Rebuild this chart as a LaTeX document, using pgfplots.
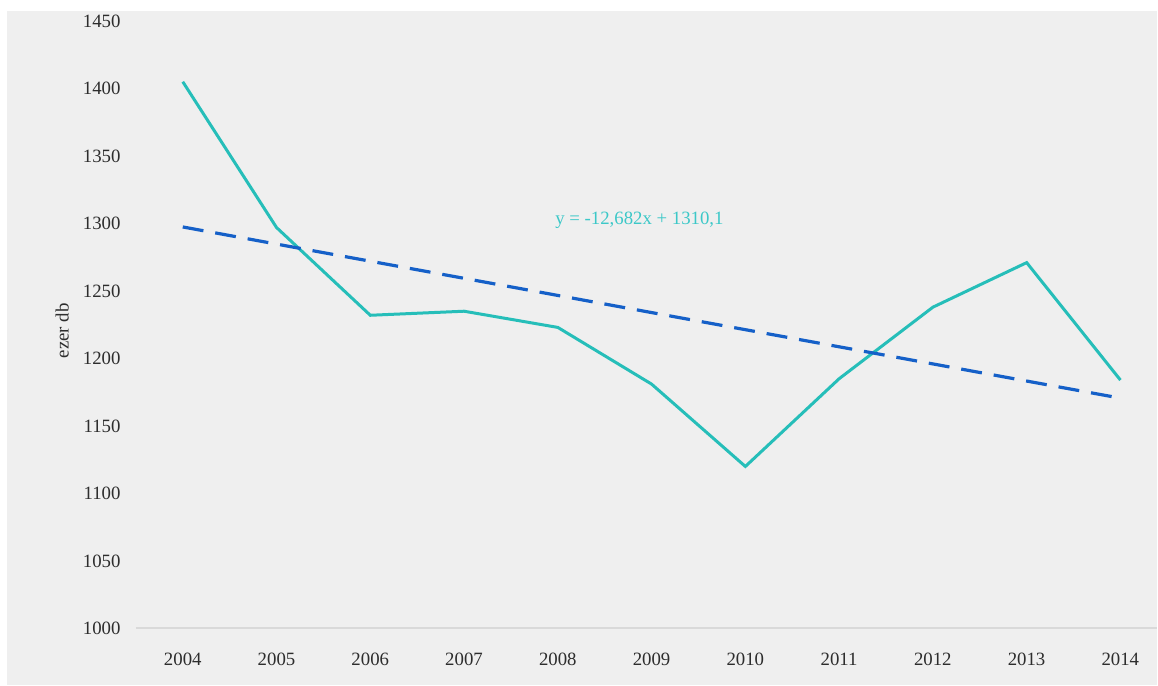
\documentclass[border=0pt]{standalone}
\usepackage{pgfplots}
\pgfplotsset{compat=1.18}
\usepackage{fontspec}
\setmainfont{Liberation Serif}
\definecolor{bgc}{RGB}{239,239,239}
\definecolor{tealc}{RGB}{38,190,185}
\definecolor{bluec}{RGB}{21,96,200}
\definecolor{labc}{RGB}{60,200,200}
\definecolor{axc}{RGB}{217,217,217}
\definecolor{txtc}{RGB}{45,45,45}
\begin{document}
\begin{tikzpicture}[x=1pt,y=1pt]
\fill[white] (0,0) rectangle (579,343);
\fill[bgc] (3.5,0) rectangle (579,337.5);
\begin{axis}[
  at={(68pt,28.5pt)}, anchor=south west,
  scale only axis, width=511pt, height=304pt,
  xmin=2003.5, xmax=2014.39, ymin=1000, ymax=1450,
  axis x line*=bottom, axis y line*=left,
  x axis line style={draw=axc, line width=1pt, -},
  y axis line style={draw=none},
  xtick={2004,...,2014},
  xticklabels={2004,2005,2006,2007,2008,2009,2010,2011,2012,2013,2014},
  major tick length=0pt,
  ytick={1000,1050,...,1450},
  yticklabel style={/pgf/number format/set thousands separator={}, /pgf/number format/assume math mode=true, anchor=east, inner sep=0pt, xshift=-7.5pt},
  tick label style={font=\fontsize{9.4}{11}\selectfont, text=txtc},
  xticklabel style={yshift=-8.5pt},
  ylabel={ezer db},
  ylabel style={font=\fontsize{9.4}{11}\selectfont, text=txtc, at={(axis description cs:0,0.49)}, anchor=south, xshift=0pt, yshift=30pt},
  clip=false,
]
\addplot[tealc, line width=1.5pt] coordinates {
(2004,1405) (2005,1297) (2006,1232) (2007,1235) (2008,1223) (2009,1181)
(2010,1120) (2011,1185) (2012,1238) (2013,1271) (2014,1184)};
\addplot[bluec, line width=1.6pt, dash pattern=on 10.5pt off 6pt] coordinates {
(2004,1297.418) (2005,1284.736) (2006,1272.054) (2007,1259.372) (2008,1246.69)
(2009,1234.008) (2010,1221.326) (2011,1208.644) (2012,1195.962) (2013,1183.28) (2014,1170.598)};
\node[text=labc, font=\fontsize{9.4}{11}\selectfont] at (axis cs:2008.87,1302) {y = -12,682x + 1310,1};
\end{axis}
\end{tikzpicture}
\end{document}
